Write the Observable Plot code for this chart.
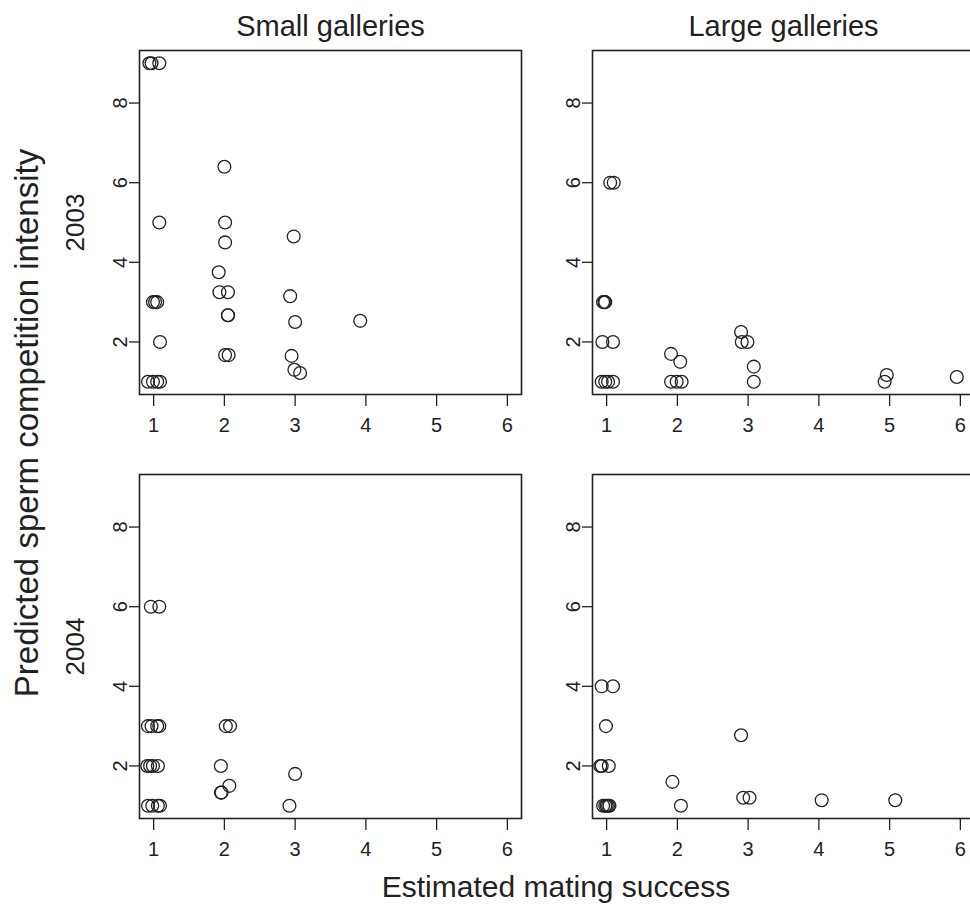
<!DOCTYPE html>
<html><head><meta charset="utf-8">
<script src="https://cdn.jsdelivr.net/npm/d3@7"></script>
<script src="https://cdn.jsdelivr.net/npm/@observablehq/plot@0.6"></script>
<style>
html,body{margin:0;padding:0;background:#fff;overflow:hidden;width:970px;height:909px;}
#chart{position:relative;width:975px;height:909px;}
</style></head><body><div id="chart"></div>
<script>
const galleries = ["Small galleries", "Large galleries"];
const years = ["2003", "2004"];
const xTicks = [1, 2, 3, 4, 5, 6];
const yTicks = [2, 4, 6, 8];
const xTitle = "Estimated mating success";
const yTitle = "Predicted sperm competition intensity";

// Small galleries, 2003
const small2003X = [0.94, 0.97, 1.08, 2.0, 1.08, 2.01, 2.01, 2.98, 1.92, 1.93, 2.05, 2.93, 0.99, 1.02, 1.05, 2.05, 2.05, 3.0, 3.92, 1.09, 0.92, 0.99, 1.05, 1.09, 2.01, 2.06, 2.95, 2.99, 3.07];
const small2003Y = [9, 9, 9, 6.4, 5, 5, 4.5, 4.65, 3.75, 3.25, 3.25, 3.15, 3, 3, 3, 2.67, 2.67, 2.5, 2.53, 2, 1, 1, 1, 1, 1.67, 1.67, 1.65, 1.3, 1.22];
// Large galleries, 2003
const large2003X = [1.05, 1.10, 0.95, 0.97, 0.98, 0.94, 1.09, 1.91, 2.04, 2.9, 2.91, 2.99, 3.08, 3.08, 0.93, 0.98, 1.02, 1.09, 1.91, 1.99, 2.06, 4.96, 4.93, 5.95];
const large2003Y = [6, 6, 3, 3, 3, 2, 2, 1.7, 1.5, 2.25, 2, 2, 1.38, 1, 1, 1, 1, 1, 1, 1, 1, 1.17, 1, 1.12];
// Small galleries, 2004
const small2004X = [0.96, 1.08, 0.92, 0.97, 1.05, 1.08, 2.02, 2.08, 0.91, 0.95, 0.99, 1.06, 1.95, 3.0, 2.07, 1.95, 1.96, 0.92, 0.98, 1.06, 1.09, 2.92];
const small2004Y = [6, 6, 3, 3, 3, 3, 3, 3, 2, 2, 2, 2, 2, 1.8, 1.5, 1.33, 1.33, 1, 1, 1, 1, 1];
// Large galleries, 2004
const large2004X = [0.93, 1.09, 0.99, 0.91, 0.93, 1.03, 1.93, 2.05, 2.9, 2.93, 3.02, 4.04, 5.08, 0.95, 0.98, 1.0, 1.02, 1.04];
const large2004Y = [4, 4, 3, 2, 2, 2, 1.6, 1, 2.77, 1.2, 1.2, 1.14, 1.14, 1, 1, 1, 1, 1];

const panels = [
  {gallery: galleries[0], year: years[0], xs: small2003X, ys: small2003Y},
  {gallery: galleries[1], year: years[0], xs: large2003X, ys: large2003Y},
  {gallery: galleries[0], year: years[1], xs: small2004X, ys: small2004Y},
  {gallery: galleries[1], year: years[1], xs: large2004X, ys: large2004Y}
];
const data = panels.flatMap(p => p.xs.map((x, i) => ({gallery: p.gallery, year: p.year, x, y: p.ys[i]})));

const ink = "#222";
const font = "'Liberation Sans', Arial, Helvetica, sans-serif";

const svg = Plot.plot({
  width: 975, height: 909,
  marginLeft: 138.5, marginRight: 0.5, marginTop: 50, marginBottom: 90.5,
  style: {fontFamily: font, color: ink, background: "#fff", overflow: "visible"},
  fx: {domain: galleries, paddingInner: 0.157, paddingOuter: 0},
  fy: {domain: years, paddingInner: 0.1885, paddingOuter: 0},
  x: {domain: [0.8, 6.2]},
  y: {domain: [0.68, 9.32]},
  marks: [
    Plot.frame({stroke: ink, strokeWidth: 1.6}),
    Plot.axisX(xTicks, {anchor: "bottom", facetAnchor: null, tickSize: 12, tickPadding: 11, fontSize: 20, label: null, strokeWidth: 1.3}),
    Plot.axisY(yTicks, {anchor: "left", facetAnchor: null, tickSize: 10, tickPadding: 3, tickRotate: -90, fontSize: 20, label: null, strokeWidth: 1.3}),
    Plot.axisFx({anchor: "top", tickSize: 0, tickPadding: 15, fontSize: 29, label: null}),
    Plot.axisFy({anchor: "left", tickSize: 0, tickPadding: 56, tickRotate: -90, fontSize: 26, label: null}),
    Plot.dot(data, {x: "x", y: "y", fx: "gallery", fy: "year", r: 6.4, stroke: ink, strokeWidth: 1.3, fill: "none"})
  ]
});

const s = d3.select(svg);
s.append("text")
  .attr("transform", "translate(37.5,423) rotate(-90)")
  .attr("text-anchor", "middle")
  .attr("font-size", 33).attr("font-family", font).attr("fill", ink)
  .text(yTitle);
s.append("text")
  .attr("x", 556).attr("y", 897)
  .attr("text-anchor", "middle")
  .attr("font-size", 30).attr("font-family", font).attr("fill", ink)
  .text(xTitle);

document.getElementById("chart").appendChild(svg);
</script>
</body></html>
